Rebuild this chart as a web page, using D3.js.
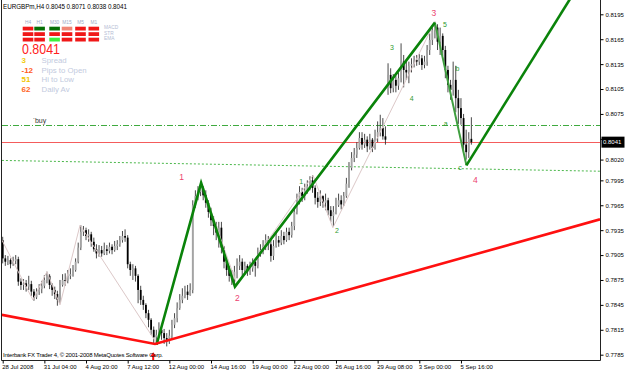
<!DOCTYPE html>
<html>
<head>
<meta charset="utf-8">
<script src="https://cdn.jsdelivr.net/npm/d3@7"></script>
<style>
  body { margin: 0; background: #fff; }
  svg text { font-family: "Liberation Sans", Arial, sans-serif; }
</style>
</head>
<body>
<div class="chart"></div>
<script>
// EURGBPm H4 candles
var opens = [
  0.7923,0.7901,0.7897,0.7899,0.7894,0.7898,0.7900,0.7873,0.7869,0.7871,
  0.7867,0.7870,0.7861,0.7854,0.7861,0.7864,0.7868,0.7875,0.7880,0.7869,
  0.7863,0.7858,0.7851,0.7869,0.7875,0.7874,0.7880,0.7882,0.7887,0.7897,
  0.7914,0.7933,0.7935,0.7928,0.7930,0.7921,0.7912,0.7907,0.7911,0.7907,
  0.7912,0.7910,0.7915,0.7911,0.7916,0.7918,0.7923,0.7928,0.7926,0.7894,
  0.7887,0.7889,0.7880,0.7863,0.7851,0.7845,0.7835,0.7827,0.7815,0.7806,
  0.7809,0.7815,0.7811,0.7805,0.7801,0.7808,0.7821,0.7829,0.7841,0.7851,
  0.7856,0.7861,0.7857,0.7863,0.7965,0.7976,0.7981,0.7986,0.7977,0.7968,
  0.7957,0.7947,0.7940,0.7932,0.7938,0.7914,0.7897,0.7887,0.7880,0.7876,
  0.7885,0.7892,0.7897,0.7887,0.7892,0.7885,0.7889,0.7897,0.7892,0.7906,
  0.7911,0.7916,0.7923,0.7918,0.7904,0.7916,0.7923,0.7920,0.7928,0.7923,
  0.7933,0.7929,0.7940,0.7957,0.7971,0.7981,0.7976,0.7983,0.7988,0.7995,
  0.7986,0.7974,0.7969,0.7976,0.7968,0.7971,0.7959,0.7952,0.7957,0.7965,
  0.7971,0.7966,0.7976,0.7991,0.8010,0.8022,0.8026,0.8034,0.8046,0.8038,
  0.8044,0.8036,0.8044,0.8034,0.8048,0.8053,0.8058,0.8048,0.8101,0.8122,
  0.8106,0.8116,0.8109,0.8118,0.8138,0.8128,0.8125,0.8133,0.8135,0.8140,
  0.8138,0.8142,0.8134,0.8138,0.8152,0.8164,0.8176,0.8179,0.8162,0.8169,
  0.8152,0.8128,0.8110,0.8104,0.8116,0.8094,0.8082,0.8070,0.8038,0.8029,0.8045
];
var highs = [
  0.7927,0.7905,0.7904,0.7901,0.7903,0.7905,0.7903,0.7877,0.7876,0.7875,
  0.7880,0.7874,0.7864,0.7865,0.7870,0.7874,0.7881,0.7885,0.7882,0.7871,
  0.7867,0.7862,0.7875,0.7882,0.7883,0.7887,0.7889,0.7893,0.7901,0.7920,
  0.7941,0.7940,0.7938,0.7936,0.7933,0.7926,0.7918,0.7917,0.7916,0.7920,
  0.7917,0.7920,0.7918,0.7922,0.7923,0.7928,0.7934,0.7936,0.7929,0.7897,
  0.7894,0.7892,0.7882,0.7868,0.7856,0.7847,0.7839,0.7829,0.7819,0.7815,
  0.7824,0.7821,0.7816,0.7811,0.7815,0.7827,0.7835,0.7848,0.7858,0.7865,
  0.7868,0.7869,0.7871,0.7971,0.7983,0.7988,0.7992,0.7988,0.7983,0.7971,
  0.7962,0.7952,0.7945,0.7945,0.7945,0.7916,0.7901,0.7892,0.7887,0.7892,
  0.7901,0.7905,0.7901,0.7897,0.7894,0.7897,0.7901,0.7901,0.7914,0.7918,
  0.7923,0.7930,0.7928,0.7923,0.7923,0.7932,0.7928,0.7935,0.7933,0.7938,
  0.7938,0.7945,0.7962,0.7979,0.7988,0.7986,0.7991,0.7995,0.8000,0.8001,
  0.7989,0.7981,0.7983,0.7977,0.7979,0.7974,0.7964,0.7964,0.7974,0.7979,
  0.7977,0.7981,0.7998,0.8017,0.8029,0.8034,0.8041,0.8053,0.8053,0.8051,
  0.8048,0.8051,0.8046,0.8056,0.8066,0.8074,0.8070,0.8060,0.8136,0.8130,
  0.8123,0.8121,0.8125,0.8160,0.8146,0.8140,0.8138,0.8142,0.8145,0.8146,
  0.8147,0.8146,0.8145,0.8158,0.8172,0.8182,0.8186,0.8183,0.8179,0.8172,
  0.8157,0.8133,0.8116,0.8138,0.8133,0.8104,0.8094,0.8075,0.8056,0.8053,0.8071
];
var lows = [
  0.7895,0.7892,0.7893,0.7889,0.7892,0.7894,0.7868,0.7863,0.7863,0.7861,
  0.7863,0.7856,0.7850,0.7852,0.7857,0.7859,0.7865,0.7871,0.7864,0.7856,
  0.7852,0.7844,0.7847,0.7867,0.7868,0.7871,0.7876,0.7879,0.7885,0.7895,
  0.7911,0.7928,0.7923,0.7921,0.7915,0.7909,0.7901,0.7903,0.7903,0.7905,
  0.7905,0.7907,0.7906,0.7909,0.7911,0.7915,0.7920,0.7921,0.7889,0.7880,
  0.7875,0.7873,0.7847,0.7845,0.7839,0.7829,0.7818,0.7809,0.7799,0.7797,
  0.7805,0.7803,0.7798,0.7795,0.7798,0.7803,0.7817,0.7824,0.7839,0.7847,
  0.7853,0.7851,0.7856,0.7859,0.7962,0.7971,0.7976,0.7971,0.7962,0.7950,
  0.7940,0.7929,0.7923,0.7914,0.7907,0.7889,0.7880,0.7873,0.7869,0.7870,
  0.7877,0.7887,0.7880,0.7881,0.7880,0.7881,0.7885,0.7879,0.7889,0.7903,
  0.7906,0.7911,0.7911,0.7897,0.7899,0.7914,0.7915,0.7917,0.7918,0.7921,
  0.7923,0.7926,0.7935,0.7954,0.7966,0.7969,0.7971,0.7979,0.7983,0.7980,
  0.7966,0.7962,0.7964,0.7962,0.7959,0.7953,0.7945,0.7940,0.7954,0.7963,
  0.7960,0.7964,0.7974,0.7986,0.8007,0.8017,0.8022,0.8032,0.8032,0.8034,
  0.8029,0.8032,0.8029,0.8032,0.8041,0.8048,0.8044,0.8038,0.8098,0.8100,
  0.8101,0.8101,0.8104,0.8113,0.8107,0.8116,0.8112,0.8125,0.8131,0.8133,
  0.8134,0.8128,0.8130,0.8133,0.8146,0.8158,0.8166,0.8152,0.8146,0.8145,
  0.8118,0.8101,0.8092,0.8097,0.8077,0.8063,0.8062,0.8029,0.8020,0.8022,0.8038
];
var closes = [
  0.7901,0.7897,0.7899,0.7894,0.7898,0.7900,0.7873,0.7869,0.7871,0.7867,
  0.7870,0.7861,0.7854,0.7861,0.7864,0.7868,0.7875,0.7880,0.7869,0.7863,
  0.7858,0.7851,0.7869,0.7875,0.7874,0.7880,0.7882,0.7887,0.7897,0.7914,
  0.7933,0.7935,0.7928,0.7930,0.7921,0.7912,0.7907,0.7911,0.7907,0.7912,
  0.7910,0.7915,0.7911,0.7916,0.7918,0.7923,0.7928,0.7926,0.7894,0.7887,
  0.7889,0.7880,0.7863,0.7851,0.7845,0.7835,0.7827,0.7815,0.7806,0.7809,
  0.7815,0.7811,0.7805,0.7801,0.7808,0.7821,0.7829,0.7841,0.7851,0.7856,
  0.7861,0.7857,0.7863,0.7965,0.7976,0.7981,0.7986,0.7977,0.7968,0.7957,
  0.7947,0.7940,0.7932,0.7938,0.7914,0.7897,0.7887,0.7880,0.7876,0.7885,
  0.7892,0.7897,0.7887,0.7892,0.7885,0.7889,0.7897,0.7892,0.7906,0.7911,
  0.7916,0.7923,0.7918,0.7904,0.7916,0.7923,0.7920,0.7928,0.7923,0.7933,
  0.7929,0.7940,0.7957,0.7971,0.7981,0.7976,0.7983,0.7988,0.7995,0.7986,
  0.7974,0.7969,0.7976,0.7968,0.7971,0.7959,0.7952,0.7957,0.7965,0.7971,
  0.7966,0.7976,0.7991,0.8010,0.8022,0.8026,0.8034,0.8046,0.8038,0.8044,
  0.8036,0.8044,0.8034,0.8048,0.8053,0.8058,0.8048,0.8044,0.8122,0.8106,
  0.8116,0.8109,0.8118,0.8138,0.8128,0.8125,0.8133,0.8135,0.8140,0.8138,
  0.8142,0.8134,0.8138,0.8152,0.8164,0.8176,0.8179,0.8162,0.8169,0.8152,
  0.8128,0.8110,0.8104,0.8116,0.8094,0.8082,0.8070,0.8038,0.8029,0.8045,0.8041
];

var timeLabels = ["28 Jul 2008", "31 Jul 04:00", "4 Aug 20:00", "7 Aug 12:00", "12 Aug 00:00",
  "14 Aug 16:00", "19 Aug 00:00", "22 Aug 00:00", "26 Aug 16:00", "29 Aug 08:00",
  "3 Sep 00:00", "5 Sep 16:00"];
var timeTickBars = [0, 16, 32, 48, 64, 80, 96, 112, 128, 144, 160, 176];
var priceTicks = [0.8195, 0.8165, 0.8135, 0.8105, 0.8075, 0.8045, 0.8020, 0.7995,
  0.7965, 0.7935, 0.7905, 0.7875, 0.7845, 0.7815, 0.7785];

var bid = 0.8041;
var buyLevel = 0.8062;

// objects drawn on the chart: [bar, price]
var supportLine = [[-0.3, 0.7833], [58.5, 0.7798], [229.4, 0.7948]];
var dottedLine = [[-0.3, 0.8019], [229.4, 0.8006]];
var zigzag = [[-0.3, 0.7923], [11.6, 0.7851], [17.0, 0.7885], [22.0, 0.7845], [29.7, 0.7941],
  [59.3, 0.7798], [76.2, 0.7992], [90.0, 0.7869], [119.2, 0.8001], [126.8, 0.7938],
  [166.0, 0.8186], [178.0, 0.8014]];
var impulse = [[59.1, 0.7797], [76.2, 0.7992], [89.2, 0.7867], [166.0, 0.8185]];
var correction = [[166.0, 0.8185], [178.1, 0.8013]];
var projection = [[178.1, 0.8013], [218, 0.8214]];

var majorWaves = ["1", "2", "3", "4"];
var majorWaveAt = [[68.7, 0.7999], [90.1, 0.7853], [165.6, 0.8196], [181.5, 0.7995]];
var minorWaves = ["1", "2", "3", "4", "5", "a", "b", "c"];
var minorWaveAt = [[114.6, 0.7993], [128.4, 0.7935], [149.5, 0.8155], [157.1, 0.8093],
  [169.9, 0.8183], [170.1, 0.8063], [174.7, 0.8130], [175.6, 0.8010]];
var lowArrowAt = [57.8, 0.7788];

// dashboard
var header = "EURGBPm,H4  0.8045 0.8071 0.8038 0.8041";
var timeframes = ["H4", "H1", "M30", "M15", "M5", "M1"];
var indicators = ["MACD", "STR", "EMA"];
var signals = [
  ["down", "up", "up", "weak", "down", "down"],
  ["down", "down", "down", "down", "down", "down"],
  ["down", "down", "strong", "down", "down", "down"]
];
var statValues = ["3", "-12", "51", "62"];
var statNames = ["Spread", "Pips to Open", "Hi to Low", "Daily Av"];

var width = 625, height = 371;
var plotLeft = 2, plotRight = 600, plotTop = 0, plotBottom = 360;

var svg = d3.select(".chart").append("svg")
    .attr("width", width)
    .attr("height", height);

var x = d3.scaleLinear().domain([0, 229.4]).range([2.7, 600]);
var y = d3.scaleLinear().domain([0.7785, 0.8195]).range([354.7, 14.3]);

svg.append("clipPath").attr("id", "plot")
  .append("rect")
    .attr("x", plotLeft).attr("y", plotTop)
    .attr("width", plotRight - plotLeft).attr("height", plotBottom - plotTop);

var plot = svg.append("g").attr("clip-path", "url(#plot)");

var line = d3.line()
    .x(function(d) { return x(d[0]); })
    .y(function(d) { return y(d[1]); });

// level lines
plot.append("path")
    .attr("d", line(dottedLine))
    .attr("fill", "none")
    .attr("stroke", "#4cb84c")
    .attr("stroke-width", 1)
    .attr("stroke-dasharray", "2,2");

plot.append("line")
    .attr("x1", plotLeft).attr("x2", plotRight)
    .attr("y1", Math.round(y(buyLevel)) + 0.5).attr("y2", Math.round(y(buyLevel)) + 0.5)
    .attr("stroke", "#3faa3f")
    .attr("stroke-dasharray", "6,2,1,2");

plot.append("line")
    .attr("x1", plotLeft).attr("x2", plotRight)
    .attr("y1", Math.round(y(bid)) + 0.5).attr("y2", Math.round(y(bid)) + 0.5)
    .attr("stroke", "#f45c5c");

plot.append("text")
    .attr("x", x(11.5))
    .attr("y", y(buyLevel) - 2)
    .attr("font-size", 7)
    .attr("fill", "#333")
    .text("`buy");

// candles
var bars = d3.range(closes.length).map(function(i) {
  return {i: i, o: opens[i], h: highs[i], l: lows[i], c: closes[i]};
});

var candle = plot.selectAll(".candle")
    .data(bars)
  .enter().append("g")
    .attr("class", "candle");

candle.append("line")
    .attr("x1", function(d) { return x(d.i); })
    .attr("x2", function(d) { return x(d.i); })
    .attr("y1", function(d) { return y(d.h); })
    .attr("y2", function(d) { return y(d.l); })
    .attr("stroke", "#333")
    .attr("stroke-width", 0.9);

candle.append("rect")
    .attr("x", function(d) { return x(d.i) - 0.9; })
    .attr("width", 1.8)
    .attr("y", function(d) { return y(Math.max(d.o, d.c)); })
    .attr("height", function(d) { return Math.max(1, Math.abs(y(d.o) - y(d.c))); })
    .attr("fill", function(d) { return d.c >= d.o ? "#a4a4a4" : "#000"; });

// waves
plot.append("path")
    .attr("d", line(zigzag))
    .attr("fill", "none")
    .attr("stroke", "#dcc8c8")
    .attr("stroke-width", 1);

plot.append("path")
    .attr("d", line(correction))
    .attr("fill", "none")
    .attr("stroke", "#3f9f3f")
    .attr("stroke-width", 2);

plot.selectAll(".wave")
    .data([impulse, projection])
  .enter().append("path")
    .attr("d", line)
    .attr("fill", "none")
    .attr("stroke", "#0a830a")
    .attr("stroke-width", 2.6);

plot.append("path")
    .attr("d", line(supportLine))
    .attr("fill", "none")
    .attr("stroke", "#ff1010")
    .attr("stroke-width", 2.6);

plot.selectAll(".major")
    .data(majorWaves)
  .enter().append("text")
    .attr("x", function(d, i) { return x(majorWaveAt[i][0]); })
    .attr("y", function(d, i) { return y(majorWaveAt[i][1]); })
    .attr("dy", "0.35em")
    .attr("text-anchor", "middle")
    .attr("font-size", 8.5)
    .attr("fill", "#ec3f6e")
    .text(function(d) { return d; });

plot.selectAll(".minor")
    .data(minorWaves)
  .enter().append("text")
    .attr("x", function(d, i) { return x(minorWaveAt[i][0]); })
    .attr("y", function(d, i) { return y(minorWaveAt[i][1]); })
    .attr("dy", "0.35em")
    .attr("text-anchor", "middle")
    .attr("font-size", 7)
    .attr("fill", "#2f9a2f")
    .text(function(d) { return d; });

var ax = x(lowArrowAt[0]), ay = y(lowArrowAt[1]);
plot.append("path")
    .attr("d", "M" + ax + "," + ay + "l-3,4h2v4h2v-4h2z")
    .attr("fill", "#ff1010");

// frame
svg.append("path")
    .attr("d", "M1.5,0V" + (plotBottom + 0.5) + "H" + (plotRight + 0.5) + "V0")
    .attr("fill", "none")
    .attr("stroke", "#222");

// axes
var yAxis = d3.axisRight(y)
    .tickValues(priceTicks)
    .tickFormat(d3.format(".4f"))
    .tickSize(3)
    .tickPadding(2);

var yg = svg.append("g")
    .attr("transform", "translate(" + (plotRight + 0.5) + ",0)")
    .call(yAxis);
yg.select(".domain").remove();
yg.selectAll("text").attr("font-size", 6).attr("font-family", "Liberation Sans, Arial, sans-serif").attr("fill", "#000");

var xAxis = d3.axisBottom(x)
    .tickValues(timeTickBars)
    .tickFormat(function(d, i) { return timeLabels[i]; })
    .tickSize(3)
    .tickPadding(1);

var xg = svg.append("g")
    .attr("transform", "translate(0," + (plotBottom + 0.5) + ")")
    .call(xAxis);
xg.select(".domain").remove();
xg.selectAll("text")
    .attr("text-anchor", "start")
    .attr("dx", -1)
    .attr("font-size", 6)
    .attr("font-family", "Liberation Sans, Arial, sans-serif")
    .attr("fill", "#000");

// bid box
var by = y(bid);
svg.append("rect")
    .attr("x", 601.5).attr("y", by - 5.5)
    .attr("width", 23).attr("height", 11)
    .attr("fill", "#000");
svg.append("text")
    .attr("x", 603).attr("y", by + 2.2)
    .attr("font-size", 6)
    .attr("fill", "#fff")
    .text(d3.format(".4f")(bid));

svg.append("text")
    .attr("x", 3).attr("y", 357)
    .attr("font-size", 6)
    .attr("textLength", 160)
    .attr("fill", "#000")
    .text("Interbank FX Trader 4, \u00a9 2001-2008 MetaQuotes Software Corp.");

// dashboard
svg.append("text")
    .attr("x", 3).attr("y", 8.5)
    .attr("font-size", 6.3)
    .attr("textLength", 124)
    .attr("fill", "#000")
    .text(header);

var colX = [28, 39.6, 54.6, 67, 80.5, 93.8];
var signalColor = {down: "#f01818", up: "#067006", weak: "#f08676", strong: "#3cf03c"};

svg.selectAll(".tf")
    .data(timeframes)
  .enter().append("text")
    .attr("x", function(d, i) { return colX[i]; })
    .attr("y", 23.5)
    .attr("text-anchor", "middle")
    .attr("font-size", 4.8)
    .attr("fill", "#9eabc8")
    .text(function(d) { return d; });

signals.forEach(function(row, r) {
  svg.selectAll(".sig" + r)
      .data(row)
    .enter().append("rect")
      .attr("x", function(d, i) { return colX[i] - 5.3; })
      .attr("y", 26.7 + r * 5.5)
      .attr("width", 10.6)
      .attr("height", 3.8)
      .attr("fill", function(d) { return signalColor[d]; });
});

svg.selectAll(".ind")
    .data(indicators)
  .enter().append("text")
    .attr("x", 104)
    .attr("y", function(d, i) { return 29.2 + i * 5.5; })
    .attr("font-size", 4.8)
    .attr("fill", "#b4bcd4")
    .text(function(d) { return d; });

svg.append("text")
    .attr("x", 22).attr("y", 54)
    .attr("font-size", 15)
    .attr("textLength", 38)
    .attr("lengthAdjust", "spacingAndGlyphs")
    .attr("fill", "#ff2020")
    .text(d3.format(".4f")(bid));

var statColor = ["#f2cc10", "#ff5a22", "#f2c400", "#ff6426"];
svg.selectAll(".statv")
    .data(statValues)
  .enter().append("text")
    .attr("x", 21.5)
    .attr("y", function(d, i) { return 63 + i * 9.7; })
    .attr("font-size", 8)
    .attr("font-weight", "bold")
    .attr("fill", function(d, i) { return statColor[i]; })
    .text(function(d) { return d; });

svg.selectAll(".statn")
    .data(statNames)
  .enter().append("text")
    .attr("x", 41.5)
    .attr("y", function(d, i) { return 63 + i * 9.7; })
    .attr("font-size", 7.8)
    .attr("fill", "#c2cade")
    .text(function(d) { return d; });
</script>
</body>
</html>
